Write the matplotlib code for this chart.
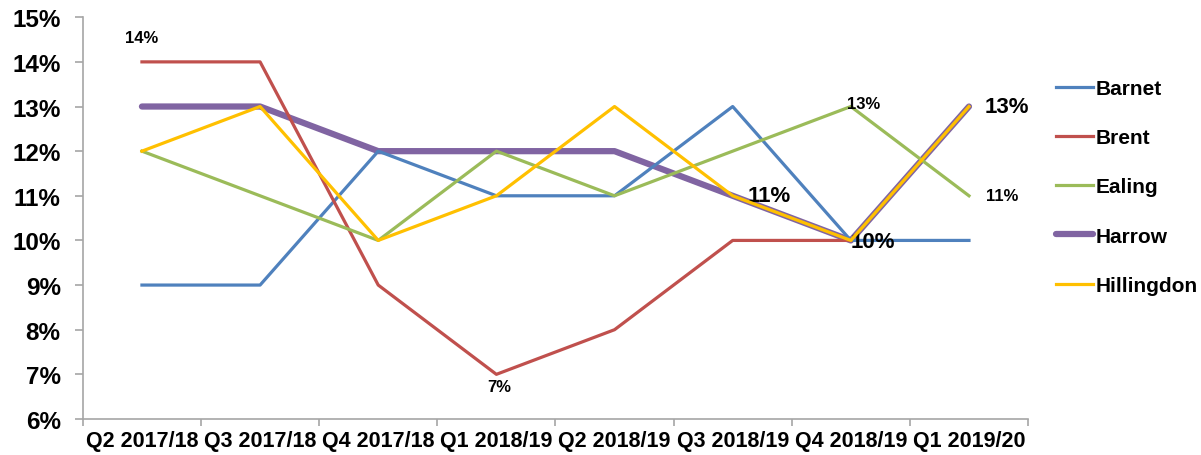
import numpy as np
import matplotlib
matplotlib.use("Agg")
import matplotlib.pyplot as plt

plt.rcParams['font.family'] = ['Liberation Sans', 'DejaVu Sans']
plt.rcParams['font.weight'] = 'bold'

quarters = ["Q2 2017/18", "Q3 2017/18", "Q4 2017/18", "Q1 2018/19",
            "Q2 2018/19", "Q3 2018/19", "Q4 2018/19", "Q1 2019/20"]
barnet = [9, 9, 12, 11, 11, 13, 10, 10]
brent = [14, 14, 9, 7, 8, 10, 10, np.nan]
ealing = [12, 11, 10, 12, 11, 12, 13, 11]
harrow = [13, 13, 12, 12, 12, 11, 10, 13]
hillingdon = [12, 13, 10, 11, 13, 11, 10, 13]

fig = plt.figure(figsize=(12.01, 4.56), dpi=100)
ax = fig.add_axes([0.069, 0.079, 0.787, 0.881])

x = np.arange(len(quarters)) + 0.5

# Harrow drawn thick underneath, Hillingdon on top of it
ax.plot(x, barnet, color='#4F81BD', lw=2.3, label='Barnet', zorder=3)
ax.plot(x, brent, color='#C0504D', lw=2.3, label='Brent', zorder=3)
ax.plot(x, ealing, color='#9BBB59', lw=2.3, label='Ealing', zorder=3)
ax.plot(x, harrow, color='#8064A2', lw=4.5, label='Harrow', zorder=2,
        solid_capstyle='round')
ax.plot(x, hillingdon, color='#FFC000', lw=2.3, label='Hillingdon', zorder=4)

# data labels
ax.annotate('14%', (x[0], brent[0]), xytext=(0, 12), textcoords='offset points',
            ha='center', va='bottom', fontsize=12)
ax.annotate('7%', (x[3], brent[3]), xytext=(2, -3), textcoords='offset points',
            ha='center', va='top', fontsize=12)
ax.annotate('13%', (x[6], ealing[6]), xytext=(-3, 2), textcoords='offset points',
            ha='left', va='center', fontsize=12)
ax.annotate('11%', (x[7], ealing[7]), xytext=(12, 0), textcoords='offset points',
            ha='left', va='center', fontsize=12)
ax.annotate('13%', (x[7], harrow[7]), xytext=(11, 0), textcoords='offset points',
            ha='left', va='center', fontsize=16)
ax.annotate('11%', (x[5], harrow[5]), xytext=(11, 0), textcoords='offset points',
            ha='left', va='center', fontsize=16)
ax.annotate('10%', (x[6], harrow[6]), xytext=(0, -1), textcoords='offset points',
            ha='left', va='center', fontsize=16)

ax.set_xlim(0, len(quarters))
ax.set_ylim(6, 15)
ax.set_yticks(range(6, 16))
ax.set_yticklabels([f'{v}%' for v in range(6, 16)], fontsize=17.5)
ax.set_xticks(range(len(quarters) + 1))
ax.set_xticklabels([])
ax.set_xticks(x, minor=True)
ax.set_xticklabels(quarters, minor=True, fontsize=15.5)
ax.tick_params(axis='x', which='minor', length=0, pad=8)
ax.tick_params(axis='x', which='major', length=5, color='#A6A6A6', width=1.2)
ax.tick_params(axis='y', length=6, color='#A6A6A6', width=1.2, pad=10)

for s in ['top', 'right']:
    ax.spines[s].set_visible(False)
for s in ['left', 'bottom']:
    ax.spines[s].set_color('#A6A6A6')
    ax.spines[s].set_linewidth(1.2)

leg = ax.legend(loc='upper left', bbox_to_anchor=(1.01, 0.893), frameon=False,
                fontsize=15, handlelength=1.75, handletextpad=0.15,
                labelspacing=1.45)

fig.savefig('out.png', dpi=100)
